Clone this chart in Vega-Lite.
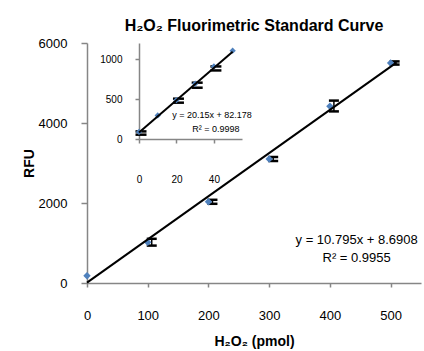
{
  "$schema": "https://vega.github.io/schema/vega-lite/v6.json",
  "width": 334,
  "height": 240,
  "autosize": {"type": "none"},
  "padding": {"left": 87, "top": 43, "right": 3, "bottom": 68},
  "title": {"text": "H₂O₂ Fluorimetric Standard Curve", "font": "Liberation Sans", "fontSize": 16, "fontWeight": "bold", "color": "#000000", "anchor": "middle", "frame": "group", "baseline": "bottom", "offset": 13, "dy": 26},
  "datasets": {
    "main": [
      {"pmol": 0, "rfu": 180},
      {"pmol": 100, "rfu": 1020, "lo": 935, "hi": 1105},
      {"pmol": 200, "rfu": 2030, "lo": 1980, "hi": 2080},
      {"pmol": 300, "rfu": 3100, "lo": 3050, "hi": 3150},
      {"pmol": 400, "rfu": 4420, "lo": 4290, "hi": 4560},
      {"pmol": 500, "rfu": 5500, "lo": 5460, "hi": 5540}
    ],
    "mainFit": [{"pmol": 0, "rfu": 8.69}, {"pmol": 510, "rfu": 5514.2}],
    "inset": [
      {"pmol": 0, "rfu": 88, "lo": 54, "hi": 95},
      {"pmol": 10, "rfu": 295},
      {"pmol": 20, "rfu": 487, "lo": 454, "hi": 504},
      {"pmol": 30, "rfu": 691, "lo": 641, "hi": 704},
      {"pmol": 40, "rfu": 907, "lo": 857, "hi": 907},
      {"pmol": 50, "rfu": 1104}
    ],
    "insetFit": [{"pmol": 0, "rfu": 82.18}, {"pmol": 50, "rfu": 1089.7}]
  },
  "layer": [
    {
      "layer": [
        {
          "data": {"name": "main"},
          "transform": [{"filter": "datum.lo != null"}],
          "mark": {"type": "rule", "color": "#000000", "strokeWidth": 1.5, "xOffset": 4},
          "encoding": {
            "x": {"field": "pmol", "type": "quantitative", "scale": {"domain": [0, 550], "nice": false, "zero": false},
              "axis": {"values": [0, 100, 200, 300, 400, 500], "format": "d", "title": "H₂O₂ (pmol)", "tickSize": 4, "labelPadding": 22, "labelFontSize": 13, "labelFlush": false, "titleFontSize": 14, "titlePadding": 12}},
            "y": {"field": "lo", "type": "quantitative", "scale": {"domain": [0, 6000], "nice": false},
              "axis": {"values": [0, 2000, 4000, 6000], "format": "d", "title": "RFU", "tickSize": 6, "labelPadding": 14, "labelFontSize": 13, "titleFontSize": 14, "titlePadding": 2}},
            "y2": {"field": "hi"}
          }
        },
        {
          "data": {"name": "main"},
          "transform": [{"filter": "datum.lo != null"}],
          "mark": {"type": "rule", "color": "#000000", "strokeWidth": 2.5, "xOffset": -1, "x2Offset": 9},
          "encoding": {
            "x": {"field": "pmol", "type": "quantitative", "scale": {"domain": [0, 550], "nice": false, "zero": false},
              "axis": {"values": [0, 100, 200, 300, 400, 500], "format": "d", "title": "H₂O₂ (pmol)", "tickSize": 4, "labelPadding": 22, "labelFontSize": 13, "labelFlush": false, "titleFontSize": 14, "titlePadding": 12}},
            "x2": {"field": "pmol"},
            "y": {"field": "lo", "type": "quantitative", "scale": {"domain": [0, 6000], "nice": false},
              "axis": {"values": [0, 2000, 4000, 6000], "format": "d", "title": "RFU", "tickSize": 6, "labelPadding": 14, "labelFontSize": 13, "titleFontSize": 14, "titlePadding": 2}}
          }
        },
        {
          "data": {"name": "main"},
          "transform": [{"filter": "datum.lo != null"}],
          "mark": {"type": "rule", "color": "#000000", "strokeWidth": 2.5, "xOffset": -1, "x2Offset": 9},
          "encoding": {
            "x": {"field": "pmol", "type": "quantitative", "scale": {"domain": [0, 550], "nice": false, "zero": false},
              "axis": {"values": [0, 100, 200, 300, 400, 500], "format": "d", "title": "H₂O₂ (pmol)", "tickSize": 4, "labelPadding": 22, "labelFontSize": 13, "labelFlush": false, "titleFontSize": 14, "titlePadding": 12}},
            "x2": {"field": "pmol"},
            "y": {"field": "hi", "type": "quantitative", "scale": {"domain": [0, 6000], "nice": false},
              "axis": {"values": [0, 2000, 4000, 6000], "format": "d", "title": "RFU", "tickSize": 6, "labelPadding": 14, "labelFontSize": 13, "titleFontSize": 14, "titlePadding": 2}}
          }
        },
        {
          "data": {"name": "main"},
          "mark": {"type": "point", "shape": "diamond", "filled": true, "color": "#4F81BD", "size": 55, "opacity": 1},
          "encoding": {
            "x": {"field": "pmol", "type": "quantitative", "scale": {"domain": [0, 550], "nice": false, "zero": false},
              "axis": {"values": [0, 100, 200, 300, 400, 500], "format": "d", "title": "H₂O₂ (pmol)", "tickSize": 4, "labelPadding": 22, "labelFontSize": 13, "labelFlush": false, "titleFontSize": 14, "titlePadding": 12}},
            "y": {"field": "rfu", "type": "quantitative", "scale": {"domain": [0, 6000], "nice": false},
              "axis": {"values": [0, 2000, 4000, 6000], "format": "d", "title": "RFU", "tickSize": 6, "labelPadding": 14, "labelFontSize": 13, "titleFontSize": 14, "titlePadding": 2}}
          }
        },
        {
          "data": {"name": "mainFit"},
          "mark": {"type": "line", "color": "#000000", "strokeWidth": 2},
          "encoding": {
            "x": {"field": "pmol", "type": "quantitative", "scale": {"domain": [0, 550], "nice": false, "zero": false},
              "axis": {"values": [0, 100, 200, 300, 400, 500], "format": "d", "title": "H₂O₂ (pmol)", "tickSize": 4, "labelPadding": 22, "labelFontSize": 13, "labelFlush": false, "titleFontSize": 14, "titlePadding": 12}},
            "y": {"field": "rfu", "type": "quantitative", "scale": {"domain": [0, 6000], "nice": false},
              "axis": {"values": [0, 2000, 4000, 6000], "format": "d", "title": "RFU", "tickSize": 6, "labelPadding": 14, "labelFontSize": 13, "titleFontSize": 14, "titlePadding": 2}}
          }
        },
        {
          "data": {"values": [{}]},
          "mark": {"type": "text", "font": "Liberation Sans", "fontSize": 13, "color": "#000000", "align": "center", "baseline": "middle"},
          "encoding": {
            "x": {"datum": 444, "type": "quantitative", "scale": {"domain": [0, 550], "nice": false, "zero": false},
              "axis": {"values": [0, 100, 200, 300, 400, 500], "format": "d", "title": "H₂O₂ (pmol)", "tickSize": 4, "labelPadding": 22, "labelFontSize": 13, "labelFlush": false, "titleFontSize": 14, "titlePadding": 12}},
            "y": {"datum": 1070, "type": "quantitative", "scale": {"domain": [0, 6000], "nice": false},
              "axis": {"values": [0, 2000, 4000, 6000], "format": "d", "title": "RFU", "tickSize": 6, "labelPadding": 14, "labelFontSize": 13, "titleFontSize": 14, "titlePadding": 2}},
            "text": {"value": "y = 10.795x + 8.6908"}
          }
        },
        {
          "data": {"values": [{}]},
          "mark": {"type": "text", "font": "Liberation Sans", "fontSize": 13, "color": "#000000", "align": "center", "baseline": "middle"},
          "encoding": {
            "x": {"datum": 444, "type": "quantitative", "scale": {"domain": [0, 550], "nice": false, "zero": false},
              "axis": {"values": [0, 100, 200, 300, 400, 500], "format": "d", "title": "H₂O₂ (pmol)", "tickSize": 4, "labelPadding": 22, "labelFontSize": 13, "labelFlush": false, "titleFontSize": 14, "titlePadding": 12}},
            "y": {"datum": 632, "type": "quantitative", "scale": {"domain": [0, 6000], "nice": false},
              "axis": {"values": [0, 2000, 4000, 6000], "format": "d", "title": "RFU", "tickSize": 6, "labelPadding": 14, "labelFontSize": 13, "titleFontSize": 14, "titlePadding": 2}},
            "text": {"value": "R² = 0.9955"}
          }
        }
      ]
    },
    {
      "layer": [
        {
          "data": {"name": "inset"},
          "transform": [{"filter": "datum.lo != null"}],
          "mark": {"type": "rule", "color": "#000000", "strokeWidth": 2.5, "xOffset": -3.5, "x2Offset": 7.5},
          "encoding": {
            "x": {"field": "pmol", "type": "quantitative", "scale": {"domain": [0, 55], "nice": false, "zero": false, "range": [52, 155]},
              "axis": {"orient": "bottom", "offset": -144, "values": [0, 20, 40], "format": "d", "title": null, "tickSize": 4, "labelPadding": 31, "labelFontSize": 10, "labelFlush": false}},
            "x2": {"field": "pmol"},
            "y": {"field": "lo", "type": "quantitative", "scale": {"domain": [0, 1200], "nice": false, "range": [96, 0]},
              "axis": {"orient": "left", "offset": -52, "values": [0, 500, 1000], "format": "d", "title": null, "tickSize": 4, "labelPadding": 13, "labelFontSize": 10}}
          }
        },
        {
          "data": {"name": "inset"},
          "transform": [{"filter": "datum.lo != null"}],
          "mark": {"type": "rule", "color": "#000000", "strokeWidth": 2.5, "xOffset": -3.5, "x2Offset": 7.5},
          "encoding": {
            "x": {"field": "pmol", "type": "quantitative", "scale": {"domain": [0, 55], "nice": false, "zero": false, "range": [52, 155]},
              "axis": {"orient": "bottom", "offset": -144, "values": [0, 20, 40], "format": "d", "title": null, "tickSize": 4, "labelPadding": 31, "labelFontSize": 10, "labelFlush": false}},
            "x2": {"field": "pmol"},
            "y": {"field": "hi", "type": "quantitative", "scale": {"domain": [0, 1200], "nice": false, "range": [96, 0]},
              "axis": {"orient": "left", "offset": -52, "values": [0, 500, 1000], "format": "d", "title": null, "tickSize": 4, "labelPadding": 13, "labelFontSize": 10}}
          }
        },
        {
          "data": {"name": "inset"},
          "mark": {"type": "point", "shape": "diamond", "filled": true, "color": "#4F81BD", "size": 40, "opacity": 1},
          "encoding": {
            "x": {"field": "pmol", "type": "quantitative", "scale": {"domain": [0, 55], "nice": false, "zero": false, "range": [52, 155]},
              "axis": {"orient": "bottom", "offset": -144, "values": [0, 20, 40], "format": "d", "title": null, "tickSize": 4, "labelPadding": 31, "labelFontSize": 10, "labelFlush": false}},
            "y": {"field": "rfu", "type": "quantitative", "scale": {"domain": [0, 1200], "nice": false, "range": [96, 0]},
              "axis": {"orient": "left", "offset": -52, "values": [0, 500, 1000], "format": "d", "title": null, "tickSize": 4, "labelPadding": 13, "labelFontSize": 10}}
          }
        },
        {
          "data": {"name": "insetFit"},
          "mark": {"type": "line", "color": "#000000", "strokeWidth": 2},
          "encoding": {
            "x": {"field": "pmol", "type": "quantitative", "scale": {"domain": [0, 55], "nice": false, "zero": false, "range": [52, 155]},
              "axis": {"orient": "bottom", "offset": -144, "values": [0, 20, 40], "format": "d", "title": null, "tickSize": 4, "labelPadding": 31, "labelFontSize": 10, "labelFlush": false}},
            "y": {"field": "rfu", "type": "quantitative", "scale": {"domain": [0, 1200], "nice": false, "range": [96, 0]},
              "axis": {"orient": "left", "offset": -52, "values": [0, 500, 1000], "format": "d", "title": null, "tickSize": 4, "labelPadding": 13, "labelFontSize": 10}}
          }
        },
        {
          "data": {"values": [{}]},
          "mark": {"type": "text", "font": "Liberation Sans", "fontSize": 9, "color": "#000000", "align": "center", "baseline": "middle"},
          "encoding": {
            "x": {"datum": 39, "type": "quantitative", "scale": {"domain": [0, 55], "nice": false, "zero": false, "range": [52, 155]},
              "axis": {"orient": "bottom", "offset": -144, "values": [0, 20, 40], "format": "d", "title": null, "tickSize": 4, "labelPadding": 31, "labelFontSize": 10, "labelFlush": false}},
            "y": {"datum": 304, "type": "quantitative", "scale": {"domain": [0, 1200], "nice": false, "range": [96, 0]},
              "axis": {"orient": "left", "offset": -52, "values": [0, 500, 1000], "format": "d", "title": null, "tickSize": 4, "labelPadding": 13, "labelFontSize": 10}},
            "text": {"value": "y = 20.15x + 82.178"}
          }
        },
        {
          "data": {"values": [{}]},
          "mark": {"type": "text", "font": "Liberation Sans", "fontSize": 9, "color": "#000000", "align": "center", "baseline": "middle"},
          "encoding": {
            "x": {"datum": 41, "type": "quantitative", "scale": {"domain": [0, 55], "nice": false, "zero": false, "range": [52, 155]},
              "axis": {"orient": "bottom", "offset": -144, "values": [0, 20, 40], "format": "d", "title": null, "tickSize": 4, "labelPadding": 31, "labelFontSize": 10, "labelFlush": false}},
            "y": {"datum": 129, "type": "quantitative", "scale": {"domain": [0, 1200], "nice": false, "range": [96, 0]},
              "axis": {"orient": "left", "offset": -52, "values": [0, 500, 1000], "format": "d", "title": null, "tickSize": 4, "labelPadding": 13, "labelFontSize": 10}},
            "text": {"value": "R² = 0.9998"}
          }
        }
      ]
    }
  ],
  "resolve": {"scale": {"x": "independent", "y": "independent"}, "axis": {"x": "independent", "y": "independent"}},
  "config": {
    "view": {"stroke": null},
    "axis": {
      "grid": false,
      "domainColor": "#868686",
      "domainWidth": 1.5,
      "tickColor": "#868686",
      "tickWidth": 1.5,
      "labelColor": "#000000",
      "labelFont": "Liberation Sans",
      "titleFont": "Liberation Sans",
      "titleColor": "#000000",
      "titleFontWeight": "bold"
    }
  }
}
